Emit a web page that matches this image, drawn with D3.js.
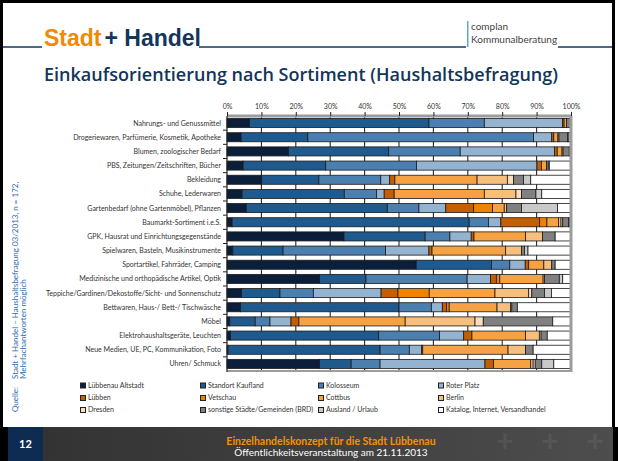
<!DOCTYPE html>
<html>
<head>
<meta charset="utf-8">
<script src="https://cdn.jsdelivr.net/npm/d3@7"></script>
<style>
  body { margin: 0; background: #fff; }
  text { font-family: Lato, "Open Sans", sans-serif; }
</style>
</head>
<body>
<svg id="chart" width="618" height="461"></svg>
<script>
var categories = [
  "Nahrungs- und Genussmittel",
  "Drogeriewaren, Parfümerie, Kosmetik, Apotheke",
  "Blumen, zoologischer Bedarf",
  "PBS, Zeitungen/Zeitschriften, Bücher",
  "Bekleidung",
  "Schuhe, Lederwaren",
  "Gartenbedarf (ohne Gartenmöbel), Pflanzen",
  "Baumarkt-Sortiment i.e.S.",
  "GPK, Hausrat und Einrichtungsgegenstände",
  "Spielwaren, Basteln, Musikinstrumente",
  "Sportartikel, Fahrräder, Camping",
  "Medizinische und orthopädische Artikel, Optik",
  "Teppiche/Gardinen/Dekostoffe/Sicht- und Sonnenschutz",
  "Bettwaren, Haus-/ Bett-/ Tischwäsche",
  "Möbel",
  "Elektrohaushaltsgeräte, Leuchten",
  "Neue Medien, UE, PC, Kommunikation, Foto",
  "Uhren/ Schmuck"
];

// shares in % per destination, one value per category (same order)
var altstadt  = [6.5, 4.1, 17.9, 4.7, 10.1, 4.4, 5.6, 1.5, 34.0, 1.7, 55.0, 26.9, 4.2, 3.9, 0.8, 1.0, 0.3, 26.9];
var kaufland  = [52.2, 19.4, 29.1, 24.0, 16.6, 29.7, 41.0, 68.9, 23.6, 14.6, 21.9, 13.5, 11.2, 46.1, 7.4, 43.1, 44.2, 9.2];
var kolosseum = [16.1, 65.6, 20.8, 26.4, 18.0, 9.4, 9.2, 5.6, 7.2, 29.8, 5.3, 29.4, 9.7, 9.4, 4.3, 17.7, 8.5, 8.4];
var roterPlatz = [22.7, 5.3, 27.4, 35.0, 2.6, 2.2, 7.8, 3.6, 6.2, 12.6, 4.5, 6.8, 19.7, 3.2, 6.1, 7.0, 3.6, 30.5];
var luebben   = [0.5, 0.6, 0.8, 1.3, 1.5, 2.9, 8.1, 11.3, 0.8, 0.9, 1.0, 1.7, 4.9, 1.2, 2.3, 2.4, 0.3, 2.5];
var vetschau  = [0, 0, 0, 0, 0, 0, 5.5, 2.1, 0, 0, 0, 1.0, 9.1, 0.8, 0, 0, 0, 0];
var cottbus   = [0.7, 1.2, 1.4, 1.5, 23.9, 26.2, 3.4, 3.4, 15.0, 21.4, 4.4, 12.6, 19.1, 13.9, 30.9, 15.6, 24.8, 10.8];
var berlin    = [0, 0.3, 0.3, 0, 8.8, 9.2, 0.7, 0.7, 4.9, 4.6, 2.3, 0.4, 9.8, 3.9, 20.3, 4.0, 5.1, 0.7];
var dresden   = [0, 0, 0, 0, 1.8, 1.6, 0, 0.5, 0, 0, 0, 0, 0.9, 0.4, 2.4, 0.5, 0, 0.6];
var sonstige  = [1.3, 2.5, 1.8, 0.5, 2.9, 4.2, 4.3, 1.7, 3.7, 0.9, 1.0, 4.3, 3.7, 1.6, 20.2, 1.8, 2.2, 1.9];
var ausland   = [0, 0.4, 0, 0.3, 2.1, 1.7, 10.5, 0.4, 0, 1.0, 0, 1.0, 2.0, 0, 0, 0, 0, 3.5];
var katalog   = [0, 0.6, 0.5, 6.3, 11.7, 8.5, 3.9, 0.3, 4.6, 12.5, 4.6, 2.4, 5.7, 15.6, 5.3, 6.9, 11.0, 5.0];

var seriesNames = [
  "Lübbenau Altstadt", "Standort Kaufland", "Kolosseum", "Roter Platz",
  "Lübben", "Vetschau", "Cottbus", "Berlin",
  "Dresden", "sonstige Städte/Gemeinden (BRD)", "Ausland / Urlaub", "Katalog, Internet, Versandhandel"
];
var seriesColors = [
  "#0b1e3a", "#1f5a8e", "#4a7fb0", "#94b3d1",
  "#c45e00", "#ef8300", "#f6a243", "#f7bf7d",
  "#fbdcbc", "#808080", "#c9c9c9", "#ffffff"
];
var tickValues = [0, 10, 20, 30, 40, 50, 60, 70, 80, 90, 100];

var series = [altstadt, kaufland, kolosseum, roterPlatz, luebben, vetschau,
              cottbus, berlin, dresden, sonstige, ausland, katalog];

var svg = d3.select("#chart");

// slide frame
svg.append("rect").attr("x", 0).attr("y", 0).attr("width", 618).attr("height", 461).attr("fill", "#000");
svg.append("rect").attr("x", 3).attr("y", 3).attr("width", 609).attr("height", 424).attr("fill", "#fff");
svg.append("rect").attr("x", 615).attr("y", 0).attr("width", 3).attr("height", 427).attr("fill", "#fff");

// header
svg.append("line").attr("x1", 3).attr("x2", 612).attr("y1", 47).attr("y2", 47)
  .attr("stroke", "#14365c").attr("stroke-width", 1.6);
svg.append("rect").attr("x", 42).attr("y", 24).attr("width", 157).attr("height", 25).attr("fill", "#fff");
var logo = svg.append("text").attr("x", 44).attr("y", 46)
  .style("font-family", "'Liberation Sans Narrow', 'Arial Narrow', sans-serif")
  .style("font-size", "23px").style("font-weight", "bold");
logo.append("tspan").attr("fill", "#f08a00").text("Stadt");
logo.append("tspan").attr("fill", "#14365c").attr("dx", 3).text("+ Handel");

svg.append("rect").attr("x", 466).attr("y", 20).attr("width", 92).attr("height", 28).attr("fill", "#fff");
svg.append("rect").attr("x", 467).attr("y", 21).attr("width", 1.5).attr("height", 26).attr("fill", "#5aa7d8");
svg.append("text").attr("x", 471).attr("y", 30).attr("fill", "#444")
  .style("font-size", "10px").text("complan");
svg.append("text").attr("x", 471).attr("y", 43).attr("fill", "#444")
  .style("font-size", "10px").text("Kommunalberatung");

svg.append("text").attr("x", 44).attr("y", 81).attr("fill", "#12355b")
  .attr("textLength", 514).attr("lengthAdjust", "spacingAndGlyphs")
  .style("font-family", "'Open Sans', sans-serif")
  .style("font-size", "18px").style("font-weight", 600)
  .text("Einkaufsorientierung nach Sortiment (Haushaltsbefragung)");

// scales
var x = d3.scaleLinear().domain([0, 100]).range([227, 571]);
var y = d3.scaleBand().domain(categories).range([116, 371]).paddingInner(0.36).paddingOuter(0.18);

// gridlines
svg.append("g").selectAll("line")
  .data(tickValues.slice(1, -1))
  .enter().append("line")
  .attr("x1", function (d) { return x(d); })
  .attr("x2", function (d) { return x(d); })
  .attr("y1", 116).attr("y2", 371)
  .attr("stroke", "#2a2a2a").attr("stroke-width", 1.1);

// stacked bars
var rows = categories.map(function (c, i) {
  var r = { cat: c };
  seriesNames.forEach(function (s, j) { r[s] = series[j][i]; });
  return r;
});
var stacked = d3.stack().keys(seriesNames)(rows);

svg.append("g").selectAll("g")
  .data(stacked)
  .enter().append("g")
  .attr("fill", function (d, i) { return seriesColors[i]; })
  .selectAll("rect")
  .data(function (d) { return d.filter(function (v) { return v[1] - v[0] > 0; }); })
  .enter().append("rect")
  .attr("x", function (d) { return x(d[0]); })
  .attr("width", function (d) { return x(d[1]) - x(d[0]); })
  .attr("y", function (d) { return y(d.data.cat); })
  .attr("height", y.bandwidth())
  .attr("stroke", "#1b1b1b").attr("stroke-width", 0.8);

// plot borders
svg.append("line").attr("x1", 227).attr("x2", 572).attr("y1", 116).attr("y2", 116)
  .attr("stroke", "#9c9c9c").attr("stroke-width", 3);
svg.append("line").attr("x1", 227).attr("x2", 572).attr("y1", 371).attr("y2", 371)
  .attr("stroke", "#9c9c9c").attr("stroke-width", 2);
svg.append("line").attr("x1", x(100)).attr("x2", x(100)).attr("y1", 116).attr("y2", 372)
  .attr("stroke", "#9c9c9c").attr("stroke-width", 3);
svg.append("line").attr("x1", x(0)).attr("x2", x(0)).attr("y1", 116).attr("y2", 372)
  .attr("stroke", "#222").attr("stroke-width", 1.2);

// category axis ticks at band boundaries
var step = y.step();
svg.append("g").selectAll("line")
  .data(categories.slice(0, -1))
  .enter().append("line")
  .attr("x1", 223).attr("x2", 227)
  .attr("y1", function (d) { return y(d) + y.bandwidth() + (step - y.bandwidth()) / 2; })
  .attr("y2", function (d) { return y(d) + y.bandwidth() + (step - y.bandwidth()) / 2; })
  .attr("stroke", "#222");

svg.append("g").selectAll("text")
  .data(categories)
  .enter().append("text")
  .attr("x", 221)
  .attr("y", function (d) { return y(d) + y.bandwidth() / 2; })
  .attr("dy", "0.35em")
  .attr("text-anchor", "end")
  .attr("fill", "#333")
  .style("font-size", "7px")
  .text(function (d) { return d; });

// top percentage axis
var axis = svg.append("g").attr("transform", "translate(0,116)")
  .call(d3.axisTop(x).tickValues(tickValues).tickSize(4).tickPadding(3)
    .tickFormat(function (d) { return d + "%"; }));
axis.select(".domain").remove();
axis.selectAll("line").attr("stroke", "#222");
axis.selectAll("text").attr("fill", "#333").style("font-size", "7px")
  .style("font-family", "Lato, sans-serif");

// legend
var legendCols = [83, 203, 321, 441];
var legendRows = [385.5, 398, 410];
var legend = svg.append("g").selectAll("g")
  .data(seriesNames)
  .enter().append("g")
  .attr("transform", function (d, i) {
    return "translate(" + legendCols[i % 4] + "," + legendRows[Math.floor(i / 4)] + ")";
  });
legend.append("rect").attr("x", -2.5).attr("y", -2.5).attr("width", 5).attr("height", 5)
  .attr("fill", function (d, i) { return seriesColors[i]; })
  .attr("stroke", "#222").attr("stroke-width", 1);
legend.append("text").attr("x", 5).attr("dy", "0.35em")
  .attr("fill", "#333").style("font-size", "7px")
  .text(function (d) { return d; });

// source note (rotated)
var src = svg.append("g").attr("fill", "#2f6db2").style("font-size", "8px");
src.append("text").attr("transform", "translate(17.5,412) rotate(-90)").text("Quelle:");
src.append("text").attr("transform", "translate(17.5,379) rotate(-90)")
  .text("Stadt + Handel – Haushaltsbefragung 03/2013, n = 172,");
src.append("text").attr("transform", "translate(25.5,379) rotate(-90)")
  .text("Mehrfachantworten möglich");

// footer
var grad = svg.append("defs").append("linearGradient").attr("id", "foot")
  .attr("x1", 0).attr("x2", 1).attr("y1", 0).attr("y2", 0);
grad.append("stop").attr("offset", "0%").attr("stop-color", "#333");
grad.append("stop").attr("offset", "100%").attr("stop-color", "#4d4d4d");
svg.append("rect").attr("x", 43).attr("y", 427).attr("width", 570).attr("height", 34).attr("fill", "url(#foot)");
svg.append("rect").attr("x", 8).attr("y", 427).attr("width", 35).attr("height", 34).attr("fill", "#0e2c52");
svg.append("text").attr("x", 25.5).attr("y", 448).attr("text-anchor", "middle")
  .attr("fill", "#fff").style("font-size", "11px").style("font-weight", "bold").text("12");

[505, 550, 595].forEach(function (px) {
  svg.append("text").attr("x", px).attr("y", 452).attr("text-anchor", "middle")
    .attr("fill", "#fff").attr("opacity", 0.06)
    .style("font-size", "30px").style("font-weight", "bold").text("+");
});

svg.append("text").attr("x", 331).attr("y", 445).attr("text-anchor", "middle")
  .attr("fill", "#f39200").style("font-size", "10.5px").style("font-weight", "bold")
  .text("Einzelhandelskonzept für die Stadt Lübbenau");
svg.append("text").attr("x", 331).attr("y", 456).attr("text-anchor", "middle")
  .attr("fill", "#fff").style("font-size", "10px")
  .text("Öffentlichkeitsveranstaltung am 21.11.2013");
</script>
</body>
</html>
